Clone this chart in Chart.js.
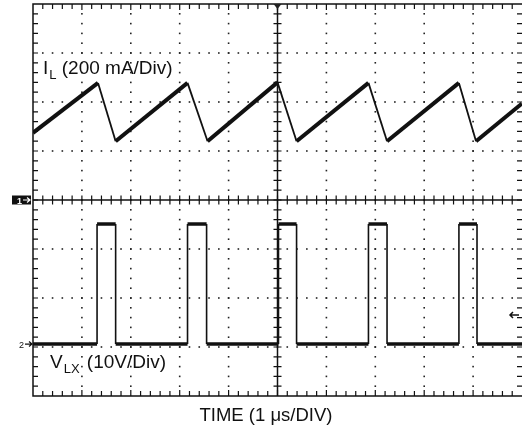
<!DOCTYPE html>
<html>
<head>
<meta charset="utf-8">
<script src="https://cdn.jsdelivr.net/npm/chart.js@4/dist/chart.umd.min.js"></script>
<style>
  html, body { margin: 0; padding: 0; background: #fff; }
  #wrap { width: 522px; height: 431px; position: relative; }
</style>
</head>
<body>
<div id="wrap"><canvas id="scope"></canvas></div>
<script>
// Traza de corriente en la bobina (divisiones desde abajo)
const ilTime = [0, 1.33, 1.69, 3.16, 3.57, 5.0, 5.39, 6.86, 7.24, 8.71, 9.06, 10];
const ilDiv  = [5.37, 6.39, 5.2, 6.39, 5.2, 6.4, 5.2, 6.39, 5.2, 6.39, 5.2, 5.97];

// Tensión en LX: flancos de subida / bajada y niveles
const vlxRise = [1.31, 3.16, 5.02, 6.86, 8.71];
const vlxFall = [1.69, 3.55, 5.39, 7.24, 9.08];
const vlxLow = 1.06;
const vlxHigh = 3.51;

const FONT = '"Liberation Sans", Arial, sans-serif';

const ilPoints = ilTime.map((t, i) => ({ x: t, y: ilDiv[i] }));

const vlxPoints = [{ x: 0, y: vlxLow }];
vlxRise.forEach((r, i) => {
  vlxPoints.push({ x: r, y: vlxLow }, { x: r, y: vlxHigh },
                 { x: vlxFall[i], y: vlxHigh }, { x: vlxFall[i], y: vlxLow });
});
vlxPoints.push({ x: 10, y: vlxLow });

// Retícula del osciloscopio: puntos, marco con marcas y cruz central
const reticula = {
  id: 'reticula',
  beforeDatasetsDraw(chart) {
    const { ctx, chartArea: a, scales: { x, y } } = chart;
    ctx.save();
    ctx.fillStyle = '#222';
    for (let i = 1; i < 10; i++) {
      if (i === 5) continue;
      const px = x.getPixelForValue(i);
      for (let k = 1; k < 40; k++) {
        const py = y.getPixelForValue(k * 0.2);
        ctx.fillRect(px - 0.8, py - 0.8, 1.6, 1.6);
      }
    }
    for (let j = 1; j < 8; j++) {
      if (j === 4) continue;
      const py = y.getPixelForValue(j);
      for (let k = 1; k < 50; k++) {
        const px = x.getPixelForValue(k * 0.2);
        ctx.fillRect(px - 0.8, py - 0.8, 1.6, 1.6);
      }
    }

    // marco (el borde derecho queda fuera del lienzo)
    ctx.strokeStyle = '#111';
    ctx.lineWidth = 1.5;
    ctx.beginPath();
    ctx.moveTo(a.right + 2, a.top); ctx.lineTo(a.left, a.top);
    ctx.lineTo(a.left, a.bottom); ctx.lineTo(a.right + 2, a.bottom);
    ctx.stroke();

    ctx.lineWidth = 1.2;
    ctx.beginPath();
    for (let k = 1; k < 50; k++) {
      const px = x.getPixelForValue(k * 0.2);
      const len = k % 5 === 0 ? 6 : 5;
      ctx.moveTo(px, a.top); ctx.lineTo(px, a.top + len);
      ctx.moveTo(px, a.bottom); ctx.lineTo(px, a.bottom - len);
    }
    for (let k = 1; k < 40; k++) {
      const py = y.getPixelForValue(k * 0.2);
      ctx.moveTo(a.left, py); ctx.lineTo(a.left + 5, py);
      ctx.moveTo(a.right + 1, py); ctx.lineTo(a.right - 5, py);
    }
    ctx.stroke();

    // cruz central
    const cx = x.getPixelForValue(5);
    const cy = y.getPixelForValue(4);
    ctx.lineWidth = 1.5;
    ctx.beginPath();
    ctx.moveTo(a.left, cy); ctx.lineTo(a.right, cy);
    ctx.moveTo(cx, a.top); ctx.lineTo(cx, a.bottom);
    ctx.stroke();
    ctx.lineWidth = 1.2;
    ctx.beginPath();
    for (let k = 1; k < 50; k++) {
      const px = x.getPixelForValue(k * 0.2);
      ctx.moveTo(px, cy - 4.5); ctx.lineTo(px, cy + 4.5);
    }
    for (let k = 1; k < 40; k++) {
      const py = y.getPixelForValue(k * 0.2);
      ctx.moveTo(cx - 4, py); ctx.lineTo(cx + 4, py);
    }
    ctx.stroke();

    // marcador de disparo
    ctx.beginPath();
    ctx.moveTo(cx - 4, a.top); ctx.lineTo(cx + 4, a.top); ctx.lineTo(cx, a.top + 5);
    ctx.closePath();
    ctx.fill();
    ctx.restore();
  },

  afterDraw(chart) {
    const { ctx, scales: { y } } = chart;
    ctx.save();
    ctx.fillStyle = '#111';
    ctx.textBaseline = 'alphabetic';

    // etiquetas de canal
    const subLabel = (main, sub, rest, lx, ly, gap) => {
      ctx.font = '19px ' + FONT;
      ctx.fillText(main, lx, ly);
      let w = ctx.measureText(main).width;
      ctx.font = '13px ' + FONT;
      ctx.fillText(sub, lx + w + 1, ly + 5);
      w += ctx.measureText(sub).width + gap;
      ctx.font = '19px ' + FONT;
      ctx.fillText(rest, lx + w, ly);
    };
    subLabel('I', 'L', ' (200 mA/Div)', 43, 74, 1);
    subLabel('V', 'LX', ' (10V/Div)', 50, 368, 3);

    ctx.font = '18.5px ' + FONT;
    ctx.textAlign = 'center';
    ctx.fillText('TIME (1 μs/DIV)', 266, 421);

    // marcador del canal 1
    const y1 = y.getPixelForValue(4);
    ctx.fillRect(12, y1 - 4.5, 19, 9);
    ctx.fillStyle = '#fff';
    ctx.font = 'bold 9px ' + FONT;
    ctx.textAlign = 'left';
    ctx.fillText('1', 17, y1 + 3.5);
    ctx.strokeStyle = '#fff';
    ctx.lineWidth = 1.2;
    ctx.beginPath();
    ctx.moveTo(23, y1); ctx.lineTo(30, y1);
    ctx.moveTo(27, y1 - 2.5); ctx.lineTo(30, y1); ctx.lineTo(27, y1 + 2.5);
    ctx.stroke();

    // marcador del canal 2
    const y2 = y.getPixelForValue(vlxLow);
    ctx.fillStyle = '#111';
    ctx.strokeStyle = '#111';
    ctx.font = '9px ' + FONT;
    ctx.fillText('2', 19, y2 + 3.5);
    ctx.beginPath();
    ctx.moveTo(25, y2); ctx.lineTo(32, y2);
    ctx.moveTo(29, y2 - 2.5); ctx.lineTo(32, y2); ctx.lineTo(29, y2 + 2.5);
    ctx.stroke();

    // flecha del borde derecho
    ctx.lineWidth = 1.5;
    ctx.beginPath();
    ctx.moveTo(510, 315); ctx.lineTo(519, 315);
    ctx.moveTo(513, 312); ctx.lineTo(510, 315); ctx.lineTo(513, 318);
    ctx.stroke();
    ctx.restore();
  }
};

new Chart(document.getElementById('scope'), {
  type: 'line',
  data: {
    datasets: [{
      label: 'IL',
      data: ilPoints,
      borderColor: '#111',
      borderWidth: 4,
      pointRadius: 0,
      tension: 0,
      segment: {
        borderWidth: c => c.p1.parsed.y > c.p0.parsed.y ? 4 : 1.8
      }
    }, {
      label: 'VLX',
      data: vlxPoints,
      borderColor: '#111',
      borderWidth: 3.5,
      pointRadius: 0,
      tension: 0,
      segment: {
        borderWidth: c => c.p1.parsed.x === c.p0.parsed.x ? 1.6 : 3.5
      }
    }]
  },
  options: {
    responsive: true,
    maintainAspectRatio: false,
    animation: false,
    layout: { padding: { left: 33, top: 4, right: 0, bottom: 35 } },
    plugins: { legend: { display: false }, tooltip: { enabled: false } },
    scales: {
      x: { type: 'linear', min: 0, max: 10, display: false },
      y: { type: 'linear', min: 0, max: 8, display: false }
    }
  },
  plugins: [reticula]
});
</script>
</body>
</html>
